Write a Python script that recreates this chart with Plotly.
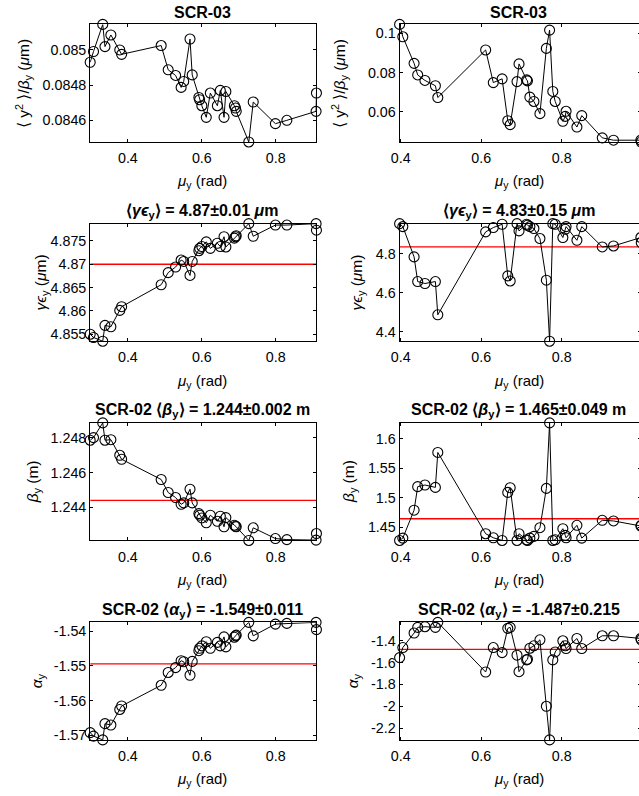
import plotly.graph_objects as go

# ---------------- data ----------------
mu_L = [0.298, 0.307, 0.332, 0.338, 0.354, 0.378, 0.383, 0.490, 0.509, 0.529, 0.544, 0.551,
        0.568, 0.574, 0.592, 0.594, 0.600, 0.612, 0.623, 0.642, 0.650, 0.660, 0.665, 0.688,
        0.691, 0.693, 0.727, 0.739, 0.799, 0.830, 0.909, 0.910]
y2b_L = [0.084930, 0.084991, 0.085145, 0.085019, 0.085085, 0.085000, 0.084975, 0.085025,
         0.084887, 0.084855, 0.084787, 0.084821, 0.085062, 0.084858, 0.084730, 0.084717,
         0.084683, 0.084617, 0.084755, 0.084683, 0.084770, 0.084617, 0.084764, 0.084683,
         0.084670, 0.084651, 0.084477, 0.084704, 0.084581, 0.084600, 0.084651, 0.084755]
gem_L = [4.8550, 4.8543, 4.8535, 4.8569, 4.8566, 4.8601, 4.8609, 4.8656, 4.8682, 4.8694,
         4.8709, 4.8706, 4.8676, 4.8706, 4.8729, 4.8734, 4.8738, 4.8748, 4.8734, 4.8745,
         4.8738, 4.8759, 4.8737, 4.8756, 4.8759, 4.8761, 4.8787, 4.8760, 4.8784, 4.8784,
         4.8787, 4.8773]
beta_L = [1.24787, 1.24802, 1.24887, 1.24787, 1.24790, 1.24700, 1.24677, 1.24560, 1.24485,
          1.24456, 1.24417, 1.24425, 1.24504, 1.24425, 1.24363, 1.24354, 1.24338, 1.24310,
          1.24354, 1.24319, 1.24348, 1.24287, 1.24340, 1.24296, 1.24290, 1.24287, 1.24208,
          1.24281, 1.24219, 1.24213, 1.24210, 1.24248]
alpha_L = [-1.5693, -1.5703, -1.5714, -1.5667, -1.5671, -1.5626, -1.5616, -1.5556, -1.5519,
           -1.5505, -1.5485, -1.5488, -1.5527, -1.5487, -1.5456, -1.5449, -1.5442, -1.5430,
           -1.5449, -1.5432, -1.5442, -1.5416, -1.5445, -1.5417, -1.5413, -1.5411, -1.5374,
           -1.5413, -1.5379, -1.5377, -1.5374, -1.5395]

mu_R = [0.397, 0.405, 0.433, 0.442, 0.460, 0.486, 0.492, 0.611, 0.630, 0.652, 0.666, 0.672,
        0.689, 0.694, 0.713, 0.715, 0.721, 0.731, 0.746, 0.762, 0.770, 0.778, 0.784, 0.803,
        0.809, 0.811, 0.838, 0.850, 0.901, 0.929, 0.997, 0.998]
y2b_R = [0.1045, 0.0982, 0.0847, 0.0788, 0.0760, 0.0733, 0.0673, 0.0915, 0.0749, 0.0768,
         0.0555, 0.0535, 0.0754, 0.0844, 0.0763, 0.0758, 0.0675, 0.0653, 0.0591, 0.0923,
         0.1016, 0.0704, 0.0653, 0.0552, 0.0577, 0.0603, 0.0523, 0.0581, 0.0468, 0.0456,
         0.0456, 0.0447]
gem_R = [4.953, 4.938, 4.783, 4.657, 4.647, 4.657, 4.487, 4.911, 4.933, 4.950, 4.686, 4.660,
         4.953, 4.916, 4.950, 4.945, 4.938, 4.928, 4.877, 4.664, 4.352, 4.953, 4.950, 4.882,
         4.924, 4.938, 4.868, 4.938, 4.834, 4.839, 4.882, 4.856]
beta_R = [1.4278, 1.4318, 1.4790, 1.5188, 1.5216, 1.5176, 1.5767, 1.4392, 1.4324, 1.4278,
          1.5091, 1.5170, 1.4278, 1.4392, 1.4290, 1.4278, 1.4318, 1.4347, 1.4494, 1.5159,
          1.6267, 1.4278, 1.4290, 1.4477, 1.4364, 1.4324, 1.4534, 1.4318, 1.4619, 1.4608,
          1.4523, 1.4534]
alpha_R = [-1.554, -1.462, -1.329, -1.277, -1.271, -1.277, -1.231, -1.686, -1.462, -1.508,
           -1.286, -1.277, -1.532, -1.683, -1.575, -1.569, -1.468, -1.446, -1.391, -2.000,
           -2.308, -1.575, -1.502, -1.400, -1.446, -1.471, -1.379, -1.471, -1.354, -1.354,
           -1.379, -1.391]

mean_L = [None, 4.870, 1.2444, -1.5494]
mean_R = [None, 4.834, 1.4645, -1.478]

xtick_vals = [0.4, 0.6, 0.8, 1.0]
xtick_text = ["0.4", "0.6", "0.8", "1"]
ytick_L = [
    ([0.0846, 0.0848, 0.085], ["0.0846", "0.0848", "0.085"]),
    ([4.855, 4.86, 4.865, 4.87, 4.875], ["4.855", "4.86", "4.865", "4.87", "4.875"]),
    ([1.244, 1.246, 1.248], ["1.244", "1.246", "1.248"]),
    ([-1.57, -1.56, -1.55, -1.54], ["-1.57", "-1.56", "-1.55", "-1.54"]),
]
ytick_R = [
    ([0.06, 0.08, 0.1], ["0.06", "0.08", "0.1"]),
    ([4.4, 4.6, 4.8], ["4.4", "4.6", "4.8"]),
    ([1.45, 1.5, 1.55, 1.6], ["1.45", "1.5", "1.55", "1.6"]),
    ([-2.2, -2.0, -1.8, -1.6, -1.4], ["-2.2", "-2", "-1.8", "-1.6", "-1.4"]),
]
titles_L = [
    "<b>SCR-03</b>",
    "<b>⟨<i>γϵ</i><sub>y</sub>⟩ = 4.87±0.01 <i>μ</i>m</b>",
    "<b>SCR-02 ⟨<i>β</i><sub>y</sub>⟩ = 1.244±0.002 m</b>",
    "<b>SCR-02 ⟨<i>α</i><sub>y</sub>⟩ = -1.549±0.011</b>",
]
titles_R = [
    "<b>SCR-03</b>",
    "<b>⟨<i>γϵ</i><sub>y</sub>⟩ = 4.83±0.15 <i>μ</i>m</b>",
    "<b>SCR-02 ⟨<i>β</i><sub>y</sub>⟩ = 1.465±0.049 m</b>",
    "<b>SCR-02 ⟨<i>α</i><sub>y</sub>⟩ = -1.487±0.215</b>",
]
ylabels = [
    "⟨ y<sup>2</sup> ⟩/<i>β</i><sub>y</sub> (<i>μ</i>m)",
    "<i>γϵ</i><sub>y</sub> (<i>μ</i>m)",
    "<i>β</i><sub>y</sub> (m)",
    "<i>α</i><sub>y</sub>",
]
xlabel = "<i>μ</i><sub>y</sub> (rad)"

# ---------------- layout geometry (pixels) ----------------
W, H = 660, 796          # page is wider than the 639 px window: right column is cut off as in the reference
FONT = "Liberation Sans, Arial, Helvetica, sans-serif"
L_x0, L_x1 = 82.3, 311.7
R_x0, R_x1 = 396.0, 641.0
row_top = [24.5, 224.5, 424.5, 624.7]
row_h = 118.0
ylab_x_L = [15, 32.5, 25, 28.5]
ylab_x_R = [335.5, 353, 345, 349]
title_cx = [(L_x0 + L_x1) / 2 - 1, 517.0]

fig = go.Figure()
layout = dict(width=W, height=H, margin=dict(l=0, r=0, t=0, b=0),
              paper_bgcolor="white", plot_bgcolor="white", showlegend=False,
              font=dict(family=FONT, size=14, color="black"))
annotations = []

cols = [
    (mu_L, [y2b_L, gem_L, beta_L, alpha_L], mean_L, ytick_L, titles_L, L_x0, L_x1, ylab_x_L),
    (mu_R, [y2b_R, gem_R, beta_R, alpha_R], mean_R, ytick_R, titles_R, R_x0, R_x1, ylab_x_R),
]

k = 0
for c, (mu, ys, means, yticks, titles, x0, x1, ylabx) in enumerate(cols):
    for r in range(4):
        k += 1
        xa = "x" if k == 1 else f"x{k}"
        ya = "y" if k == 1 else f"y{k}"
        xmin, xmax = min(mu), max(mu)
        y = ys[r]
        ymin, ymax = min(y), max(y)
        top = row_top[r]
        bot = top + row_h
        axis_common = dict(showgrid=False, zeroline=False, showline=True, linecolor="black",
                           linewidth=1, ticks="inside", ticklen=3, tickwidth=1,
                           tickcolor="black", mirror="ticks",
                           tickfont=dict(family=FONT, size=14.3, color="black"))
        layout["xaxis" if k == 1 else f"xaxis{k}"] = dict(
            domain=[x0 / W, x1 / W], range=[xmin, xmax], anchor=ya,
            tickvals=xtick_vals, ticktext=xtick_text, ticklabelstandoff=3, **axis_common)
        layout["yaxis" if k == 1 else f"yaxis{k}"] = dict(
            domain=[1 - bot / H, 1 - top / H], range=[ymin, ymax], anchor=xa,
            tickvals=yticks[r][0], ticktext=yticks[r][1], **axis_common)
        if means[r] is not None:
            fig.add_trace(go.Scatter(x=[xmin, xmax], y=[means[r], means[r]], mode="lines",
                                     line=dict(color="#ff0000", width=1.3),
                                     xaxis=xa, yaxis=ya, hoverinfo="skip"))
        fig.add_trace(go.Scatter(x=mu, y=y, mode="lines+markers", cliponaxis=False,
                                 line=dict(color="black", width=1),
                                 marker=dict(symbol="circle-open", size=10, color="black",
                                             line=dict(width=1.1)),
                                 xaxis=xa, yaxis=ya))
        cx = title_cx[c]
        annotations.append(dict(text=titles[r], x=cx / W, y=1 - (top - 12) / H,
                                xref="paper", yref="paper", xanchor="center", yanchor="middle",
                                showarrow=False, font=dict(family=FONT, size=16, color="black")))
        annotations.append(dict(text=xlabel, x=cx / W, y=1 - (bot + 40) / H,
                                xref="paper", yref="paper", xanchor="center", yanchor="middle",
                                showarrow=False, font=dict(family=FONT, size=15, color="black")))
        annotations.append(dict(text=ylabels[r], x=ylabx[r] / W, y=1 - (top + row_h / 2) / H,
                                xref="paper", yref="paper", xanchor="center", yanchor="middle",
                                textangle=-90, showarrow=False,
                                font=dict(family=FONT, size=15.5, color="black")))

layout["annotations"] = annotations
fig.update_layout(**layout)
fig.write_html("out.html")
